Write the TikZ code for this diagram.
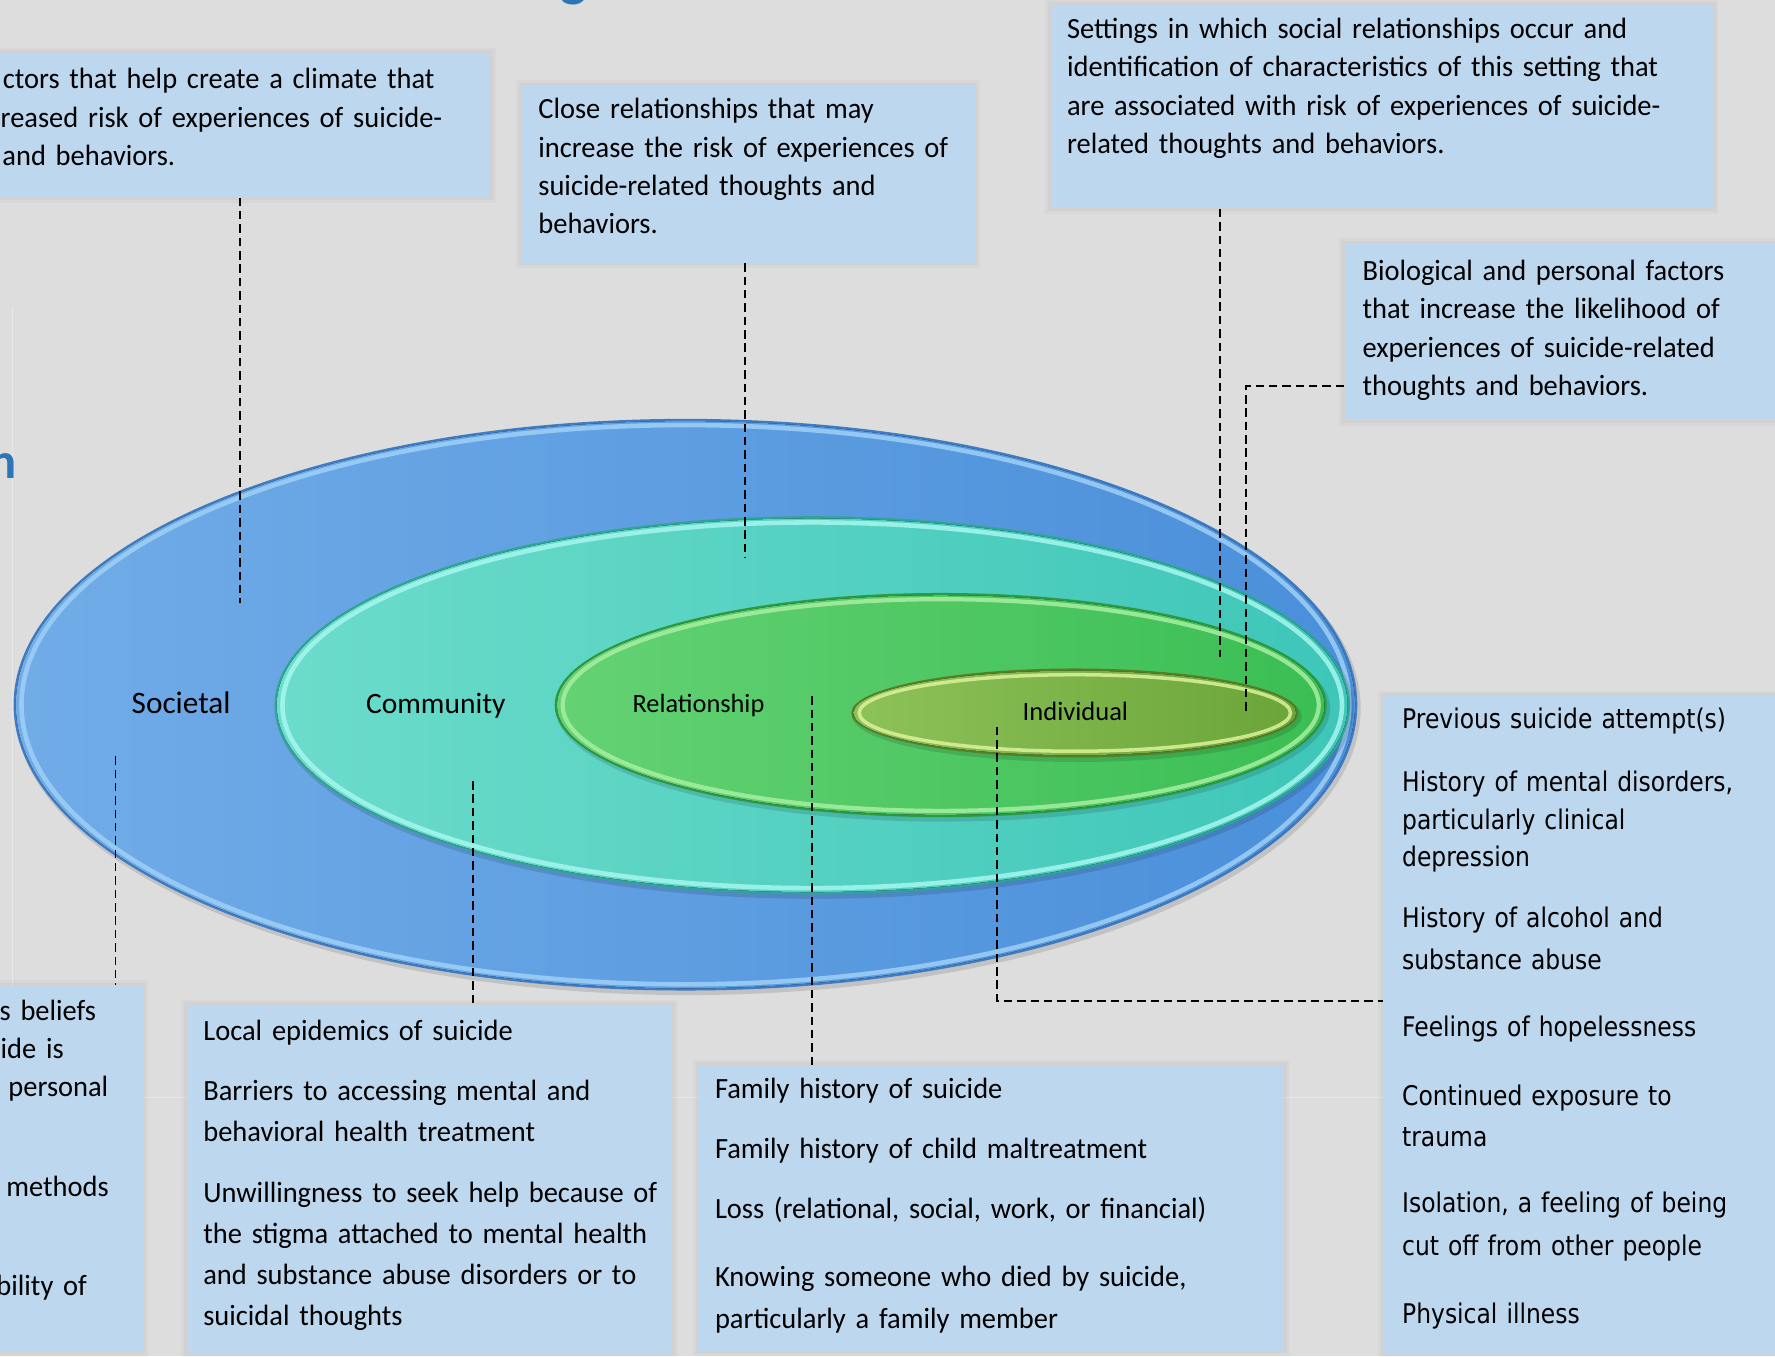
\documentclass[tikz,border=0pt]{standalone}
\usepackage{fontspec}
\setmainfont{Carlito}
\newfontfamily\bodyfont{Carlito}[FakeStretch=0.97]
\newfontfamily\tahomalike{DejaVu Sans}[FakeStretch=0.866]
\usetikzlibrary{fit}
\definecolor{bg}{HTML}{DDDDDD}
\definecolor{faint}{HTML}{E7E7E7}
\definecolor{boxblue}{HTML}{BDD7EE}
\definecolor{titleblue}{HTML}{2E75B6}
\definecolor{socL}{HTML}{71ACE7}
\definecolor{socR}{HTML}{4A8FDA}
\definecolor{socEdge}{HTML}{3F7CC4}
\definecolor{socRing}{HTML}{9FD0F6}
\definecolor{comL}{HTML}{6CDCCB}
\definecolor{comR}{HTML}{3EC6B8}
\definecolor{comEdge}{HTML}{2EA596}
\definecolor{comRing}{HTML}{A6F6EF}
\definecolor{relL}{HTML}{64D273}
\definecolor{relR}{HTML}{3BBE54}
\definecolor{relEdge}{HTML}{2C9A44}
\definecolor{relRing}{HTML}{A8EEA2}
\definecolor{indL}{HTML}{8DC259}
\definecolor{indR}{HTML}{6BA53A}
\definecolor{indEdge}{HTML}{557F26}
\definecolor{indRing}{HTML}{DDF29A}
\newcommand{\layerellipse}[6]{%
  \fill[black, opacity=0.12] (#1+2,#2+3) ellipse [x radius=#3+1, y radius=#4+1];
  \fill[#5Edge] (#1,#2) ellipse [x radius=#3, y radius=#4];
  \fill[left color=#5L, right color=#5R] (#1,#2) ellipse [x radius=#3-2, y radius=#4-2];
  \draw[#5Ring, line width=#6, opacity=0.85] (#1,#2) ellipse [x radius=#3-7, y radius=#4-5.5];
}
\begin{document}
\begin{tikzpicture}[x=0.0113202cm, y=-0.0113202cm,
  box/.style={fill=boxblue, draw=none, inner sep=0pt,
    preaction={draw=black, draw opacity=0.025, line width=3.2pt},
    preaction={draw=black, draw opacity=0.025, line width=1.6pt}},
  txt/.style={anchor=base west, inner sep=0pt, align=left, text width=#1,
    font=\bodyfont\fontsize{8.35}{10.95}\selectfont},
  lab/.style={anchor=base, inner sep=0pt},
  conn/.style={draw=black, line width=0.55pt, dash pattern=on 2.4pt off 1.4pt}]
\useasboundingbox (0,0) rectangle (1568,1198);
\fill[bg] (0,0) rectangle (1568,1198);
% faint slide guides
\draw[faint, line width=0.4pt] (11,270) -- (11,970);
\draw[faint, line width=0.4pt] (0,969.5) -- (1568,969.5);
% title fragments (cut by the page edge, as in the reference)
\node[anchor=base east, inner sep=0pt, text=titleblue, font=\fontsize{14.4}{16}\selectfont\bfseries] (tfragn) at (15,423) {n};
\node[anchor=base, inner sep=0pt, text=titleblue, font=\fontsize{16}{18}\selectfont\bfseries] (tfragg) at (507,-4.4) {g};
% nested ellipses
\layerellipse{605.5}{622.5}{593.5}{252.5}{soc}{1.3pt}
\layerellipse{717.5}{623}{475}{167}{com}{1.3pt}
\layerellipse{831}{622.8}{341}{99}{rel}{1.2pt}
\layerellipse{949.5}{629.8}{197.5}{39.3}{ind}{1.0pt}
% level labels
\node[lab, font=\fontsize{8.9}{10}\selectfont] (societal) at (160,630.5) {Societal};
\node[lab, font=\fontsize{8.4}{10}\selectfont] (community) at (385,630) {Community};
\node[lab, font=\fontsize{7.5}{9}\selectfont] (relationship) at (617,629.5) {Relationship};
\node[lab, font=\fontsize{7.55}{9}\selectfont] (individual) at (950,636.5) {Individual};
% description boxes
\node[box, fit={(-6,47) (433,174)}] (socdesc) {};
\node[txt=6cm] (socdesctext) at (0,78.2) {\hspace*{0.6pt}ctors that help create a climate that\\reased risk of experiences of suicide-\\\hspace*{0.5pt}and behaviors.};
\node[box, fit={(461,76) (861,232)}] (reldesc) {};
\node[txt=6cm] (reldesctext) at (475,104.7) {Close relationships that may\\increase the risk of experiences of\\suicide-related thoughts and\\behaviors.};
\node[box, fit={(928,4) (1513,184)}] (comdesc) {};
\node[txt=8cm] (comdesctext) at (942,34) {Settings in which social relationships occur and\\identification of characteristics of this setting that\\are associated with risk of experiences of suicide-\\related thoughts and behaviors.};
\node[box, fit={(1188,215) (1576,371)}] (inddesc) {};
\node[txt=6cm] (inddesctext) at (1203,247.5) {Biological and personal factors\\that increase the likelihood of\\experiences of suicide-related\\thoughts and behaviors.};
% lists of risk factors
\node[box, fit={(-6,871) (126,1194)}] (soclist) {};
\node[txt=3cm] (soclisttext) at (0,901.5) {\hspace*{-0.3pt}s beliefs\\[-0.16pt]ide is\\[-0.16pt]\hspace*{2.2pt}personal\\[17.6pt]\hspace*{1.6pt}methods\\[17.2pt]\hspace*{-1.2pt}bility of};
\node[box, fit={(165,888) (594,1195)}] (comlist) {};
\node[txt=6.5cm, font=\bodyfont\fontsize{8.35}{11.6}\selectfont] (comlisttext) at (179,918.9) {Local epidemics of suicide\\[5.5pt]Barriers to accessing mental and\\behavioral health treatment\\[5.96pt]Unwillingness to seek help because of\\the stigma attached to mental health\\and substance abuse disorders or to\\suicidal thoughts};
\node[box, fit={(617,941) (1134,1193)}] (rellist) {};
\node[txt=7cm, font=\bodyfont\fontsize{8.35}{11.85}\selectfont] (rellisttext) at (631,970.4) {Family history of suicide\\[5.2pt]Family history of child maltreatment\\[5.2pt]Loss (relational, social, work, or financial)\\[7.6pt]Knowing someone who died by suicide,\\particularly a family member};
\node[box, fit={(1222,615) (1576,1195)}] (indlist) {};
\node[txt=5cm, font=\tahomalike\fontsize{7.7}{11.27}\selectfont] (indlisttext) at (1238,643.9) {Previous suicide attempt(s)\\[6.67pt]History of mental disorders,\\[-0.64pt]particularly clinical\\[-0.77pt]depression\\[6.28pt]History of alcohol and\\[0.68pt]substance abuse\\[7.7pt]Feelings of hopelessness\\[8.21pt]Continued exposure to\\[0.52pt]trauma\\[7.67pt]Isolation, a feeling of being\\[0.9pt]cut off from other people\\[7.96pt]Physical illness};
% connector end points
\coordinate (socU) at (212,533);
\coordinate (relU) at (658,493);
\coordinate (comU) at (1078,580);
\coordinate (indK) at (1101,341);
\coordinate (indU) at (1101,628);
\coordinate (socD) at (102,668);
\coordinate (comD) at (418,690);
\coordinate (relD) at (717,615);
\coordinate (indD) at (881,642);
\coordinate (indK2) at (881,884);
% dashed connectors
\draw[conn] (socdesc.south -| socU) -- (socU);
\draw[conn] (reldesc.south -| relU) -- (relU);
\draw[conn] (comdesc.south -| comU) -- (comU);
\draw[conn] (inddesc.west |- indK) -- (indK) -- (indU);
\draw[conn] (socD) -- (soclist.north -| socD);
\draw[conn] (comD) -- (comlist.north -| comD);
\draw[conn] (relD) -- (rellist.north -| relD);
\draw[conn] (indD) -- (indK2) -- (indlist.west |- indK2);
\end{tikzpicture}
\end{document}
